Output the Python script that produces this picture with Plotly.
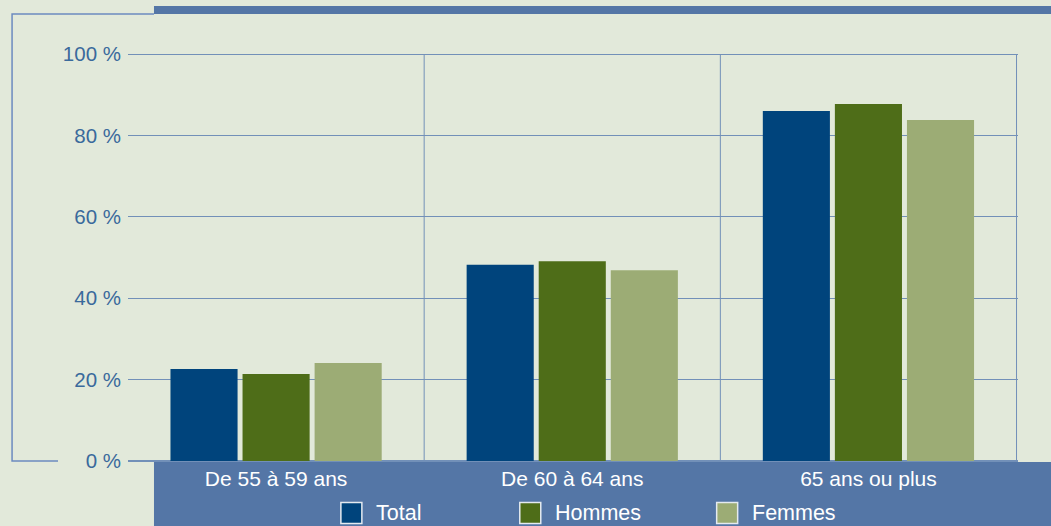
import plotly.graph_objects as go

categories = ["De 55 à 59 ans", "De 60 à 64 ans", "65 ans ou plus"]
series_names = ["Total", "Hommes", "Femmes"]
total = [22.6, 48.2, 86.0]
hommes = [21.4, 49.1, 87.7]
femmes = [24.1, 46.9, 83.8]
y_ticks = [0, 20, 40, 60, 80, 100]

colors = {"Total": "#00447C", "Hommes": "#4E6D18", "Femmes": "#9CAC75"}
values = {"Total": total, "Hommes": hommes, "Femmes": femmes}

W, H = 1051, 526
ML, MR, MT, MB = 128, 32.5, 53, 65
PW, PH = W - ML - MR, H - MT - MB
BG = "#E2E9DA"
BAND = "#5476A6"
GRID = "#7290B8"
FRAME = "#6C8BC0"
FONT = "Liberation Sans, Arial, sans-serif"

def px(x):
    return (x - ML) / PW

def py(y):
    return (H - MB - y) / PH

fig = go.Figure()
for name in series_names:
    fig.add_trace(go.Bar(
        x=categories, y=values[name], name=name,
        marker=dict(color=colors[name], line=dict(width=0)),
        showlegend=False,
    ))

shapes = []
shapes.append(dict(type="rect", xref="paper", yref="paper",
                   x0=px(154), x1=px(1060), y0=py(14), y1=py(6),
                   fillcolor=BAND, line=dict(width=0), layer="below"))
shapes.append(dict(type="rect", xref="paper", yref="paper",
                   x0=px(154), x1=px(1060), y0=py(540), y1=py(462),
                   fillcolor=BAND, line=dict(width=0), layer="below"))
shapes.append(dict(type="path", xref="paper", yref="paper",
                   path=f"M{px(58)},{py(461)} L{px(12)},{py(461)} L{px(12)},{py(14)} L{px(154)},{py(14)}",
                   line=dict(color=FRAME, width=1.5)))
for xv in [0.5, 1.5, 2.5]:
    shapes.append(dict(type="line", xref="x", yref="y", x0=xv, x1=xv, y0=0, y1=100,
                       line=dict(color=GRID, width=1), layer="below"))

legend_sq_x = [341, 520, 717]
annotations = []
for name, sx in zip(series_names, legend_sq_x):
    shapes.append(dict(type="rect", xref="paper", yref="paper",
                       x0=px(sx), x1=px(sx + 21), y0=py(523.5), y1=py(502.5),
                       fillcolor=colors[name], line=dict(color="#E4EAF0", width=1.5)))
    annotations.append(dict(xref="paper", yref="paper", x=px(sx + 33), y=py(513),
                            xanchor="left", yanchor="middle", text=name, showarrow=False,
                            font=dict(family=FONT, size=21.5, color="white")))

fig.update_layout(
    width=W, height=H,
    margin=dict(l=ML, r=MR, t=MT, b=MB, pad=0),
    paper_bgcolor=BG, plot_bgcolor=BG,
    barmode="group", bargap=0.27, bargroupgap=0.069,
    shapes=shapes, annotations=annotations, showlegend=False,
    xaxis=dict(
        type="category", range=[-0.5, 2.505], showgrid=False, zeroline=False, showline=False,
        tickfont=dict(family=FONT, size=21, color="white"),
        ticks="", ticklabelstandoff=3,
    ),
    yaxis=dict(
        range=[0, 100.25], tickvals=y_ticks, ticktext=[f"{v} %" for v in y_ticks],
        showgrid=True, gridcolor=GRID, gridwidth=1,
        zeroline=True, zerolinecolor=GRID, zerolinewidth=1.5, showline=False,
        tickfont=dict(family=FONT, size=20.5, color="#3A6A9C"),
        ticks="", ticklabelstandoff=6,
    ),
)

fig.write_html("out.html", config={"displayModeBar": False},
               post_script="document.body.style.margin='0';document.body.style.overflow='hidden';")
